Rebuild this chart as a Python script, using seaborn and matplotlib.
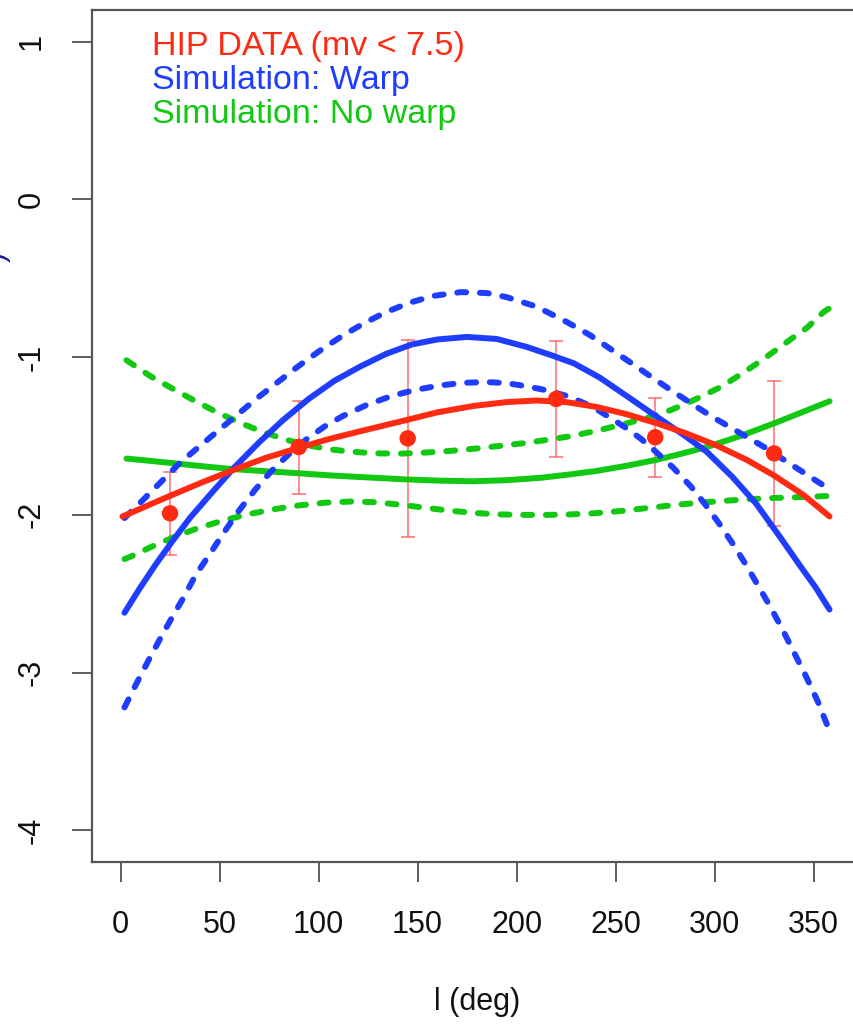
import matplotlib
matplotlib.use("Agg")
import matplotlib.pyplot as plt
import seaborn as sns

# HIP data points (mv < 7.5) with 1-sigma errors
hip_l = [25, 90, 145, 220, 270, 330]
hip_v = [-1.99, -1.57, -1.515, -1.265, -1.508, -1.61]
hip_err = [0.265, 0.295, 0.625, 0.368, 0.252, 0.458]

# Fit to HIP data
fit_l = [1, 12, 23, 40, 57, 73, 90, 105, 121, 144, 160, 178, 195, 210, 225,
         240, 255, 271, 286, 301, 316, 330, 345, 358]
fit_v = [-2.01, -1.95, -1.89, -1.80, -1.715, -1.64, -1.575, -1.52, -1.47,
         -1.40, -1.35, -1.31, -1.285, -1.275, -1.285, -1.315, -1.36, -1.42,
         -1.485, -1.56, -1.65, -1.75, -1.875, -2.01]

# Simulation with warp: mean and envelope
warp_l = [2, 10, 18, 26, 35, 45, 57, 70, 82, 95, 108, 121, 134, 147, 160,
          175, 190, 205, 218, 229, 242, 256, 271, 284, 296, 309, 321, 333,
          343, 351, 358]
warp_v = [-2.62, -2.46, -2.31, -2.17, -2.02, -1.875, -1.705, -1.54, -1.40,
          -1.265, -1.15, -1.06, -0.98, -0.92, -0.888, -0.872, -0.885, -0.935,
          -0.99, -1.04, -1.13, -1.25, -1.38, -1.49, -1.60, -1.76, -1.93,
          -2.14, -2.32, -2.46, -2.60]

warp_hi_l = [2, 11, 30, 48, 69, 89, 100, 112, 123, 134, 146, 158, 172, 185,
             195, 210, 225, 237, 247, 257, 268, 278, 289, 299, 312, 325, 341,
             357]
warp_hi_v = [-2.02, -1.91, -1.67, -1.48, -1.26, -1.065, -0.965, -0.865,
             -0.785, -0.715, -0.655, -0.612, -0.588, -0.594, -0.62, -0.68,
             -0.775, -0.86, -0.945, -1.03, -1.125, -1.21, -1.30, -1.38,
             -1.475, -1.57, -1.70, -1.83]

warp_lo_l = [2, 8, 14, 20, 26, 32, 38, 45, 52, 60, 68, 76, 85, 94, 103, 112,
             124, 136, 148, 161, 173, 185, 195, 205, 215, 225, 232, 239, 248,
             256, 263, 269, 279, 288, 295, 302, 309, 316, 322, 328, 334, 340,
             346, 352, 358]
warp_lo_v = [-3.22, -3.07, -2.925, -2.785, -2.65, -2.52, -2.38, -2.25,
             -2.115, -1.97, -1.84, -1.725, -1.615, -1.52, -1.44, -1.375,
             -1.305, -1.25, -1.21, -1.18, -1.163, -1.158, -1.165, -1.185,
             -1.21, -1.245, -1.28, -1.32, -1.39, -1.455, -1.52, -1.585, -1.70,
             -1.82, -1.93, -2.05, -2.18, -2.32, -2.45, -2.58, -2.72, -2.87,
             -3.02, -3.18, -3.37]

# Simulation without warp: mean and envelope
nowarp_l = [3, 17, 30, 44, 57, 73, 90, 106, 121, 144, 161, 178, 195, 212,
            226, 240, 255, 271, 283, 296, 313, 330, 344, 358]
nowarp_v = [-1.643, -1.66, -1.677, -1.695, -1.71, -1.723, -1.736, -1.75,
            -1.76, -1.775, -1.783, -1.787, -1.78, -1.765, -1.745, -1.722,
            -1.69, -1.65, -1.613, -1.57, -1.50, -1.42, -1.35, -1.28]

nowarp_hi_l = [3, 15, 27, 38, 48, 60, 72, 84, 95, 106, 117, 129, 141, 154,
               166, 179, 192, 204, 215, 228, 241, 254, 266, 278, 289, 303,
               315, 326, 337, 347, 355, 358]
nowarp_hi_v = [-1.02, -1.12, -1.205, -1.28, -1.345, -1.415, -1.475, -1.525,
               -1.56, -1.585, -1.60, -1.61, -1.612, -1.605, -1.595, -1.58,
               -1.562, -1.545, -1.525, -1.50, -1.465, -1.425, -1.385, -1.335,
               -1.275, -1.19, -1.095, -1.00, -0.90, -0.81, -0.714, -0.69]

nowarp_lo_l = [2, 5, 16, 28, 40, 52, 64, 77, 90, 104, 117, 129, 141, 154,
               166, 179, 192, 204, 215, 227, 239, 253, 267, 280, 293, 306,
               318, 330, 342, 358]
nowarp_lo_v = [-2.28, -2.265, -2.20, -2.135, -2.08, -2.035, -1.997, -1.965,
               -1.94, -1.922, -1.915, -1.92, -1.935, -1.955, -1.973, -1.988,
               -1.997, -2.0, -2.0, -1.997, -1.99, -1.975, -1.955, -1.937,
               -1.922, -1.91, -1.90, -1.893, -1.888, -1.88]

x_ticks = [0, 50, 100, 150, 200, 250, 300, 350]
y_ticks = [-4, -3, -2, -1, 0, 1]

RED = "#ff2a12"
BLUE = "#1f3dff"
GREEN = "#12c812"
ERR = (1.0, 0.35, 0.35, 0.75)

sns.set_theme(style="white")
plt.rcParams["font.family"] = ["Liberation Sans", "DejaVu Sans"]
plt.rcParams["axes.unicode_minus"] = False

W, H = 854, 1025
fig = plt.figure(figsize=(W / 100, H / 100), dpi=100)
ax = fig.add_axes([92 / W, 163 / H, 770 / W, 852 / H])

LW = 4.3
dash = (0, (1.5, 2.3))

def curve(lx, ly, color, dashed=False, z=3):
    sns.lineplot(x=lx, y=ly, ax=ax, color=color, linewidth=LW, sort=False,
                 estimator=None, zorder=z)
    line = ax.lines[-1]
    line.set_linestyle(dash if dashed else "-")
    line.set_dash_capstyle("round")
    line.set_solid_capstyle("round")
    line.set_solid_joinstyle("round")

ax.errorbar(hip_l, hip_v, yerr=hip_err, fmt="none", ecolor=ERR,
            elinewidth=1.3, capsize=4.8, capthick=1.3, zorder=2)

curve(nowarp_hi_l, nowarp_hi_v, GREEN, dashed=True)
curve(nowarp_lo_l, nowarp_lo_v, GREEN, dashed=True)
curve(nowarp_l, nowarp_v, GREEN)
curve(warp_hi_l, warp_hi_v, BLUE, dashed=True)
curve(warp_lo_l, warp_lo_v, BLUE, dashed=True)
curve(warp_l, warp_v, BLUE)
curve(fit_l, fit_v, RED, z=4)

sns.scatterplot(x=hip_l, y=hip_v, ax=ax, color=RED, s=140, edgecolor="none",
                zorder=5)

ax.set_xlim(-14.4, 374.4)
ax.set_ylim(-4.2, 1.2)
ax.set_xticks(x_ticks)
ax.set_xticklabels([str(t) for t in x_ticks])
ax.set_yticks(y_ticks)
ax.set_yticklabels([str(t) for t in y_ticks], rotation=90, va="center")
ax.tick_params(axis="both", direction="out", length=14.5, width=1.1,
               color="#333333", labelsize=22, labelcolor="#111111",
               bottom=True, left=True, top=False, right=False)
ax.tick_params(axis="x", pad=20)
ax.tick_params(axis="y", pad=18)
ax.set_xlabel("l (deg)", fontsize=22, color="#111111", labelpad=34)
for s in ax.spines.values():
    s.set_color("#555555")
    s.set_linewidth(1.6)

# Legend lines as coloured text
fig.text(152 / W, 1 - 47 / H, "HIP DATA (mv < 7.5)", color=RED,
         fontsize=24.5, va="center", ha="left")
fig.text(152 / W, 1 - 80 / H, "Simulation: Warp", color=BLUE,
         fontsize=24.5, va="center", ha="left")
fig.text(152 / W, 1 - 114 / H, "Simulation: No warp", color=GREEN,
         fontsize=24.5, va="center", ha="left")

# Edge of the y-axis title
fig.text(-4 / W, 1 - 257 / H, ")", color="#1c1c9c", fontsize=22,
         rotation=90, va="center", ha="center")

fig.savefig("out.png", dpi=100)
